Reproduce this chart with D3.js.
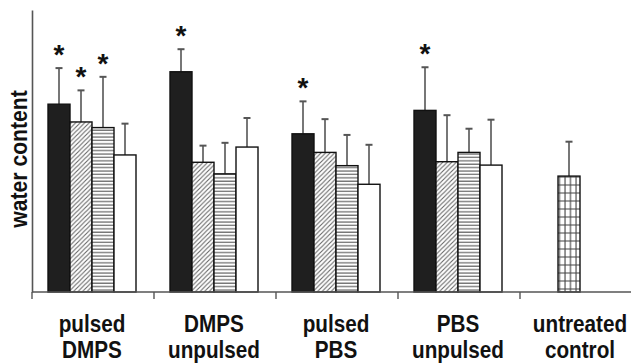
<!DOCTYPE html>
<html>
<head>
<meta charset="utf-8">
<script src="https://cdn.jsdelivr.net/npm/d3@7"></script>
<style>
  body { margin: 0; background: #fff; }
  text { font-family: "Liberation Sans", Arial, sans-serif; font-weight: bold; fill: #111; }
</style>
</head>
<body>
<svg id="chart" width="631" height="363"></svg>
<script>
// data (arbitrary units, no y ticks in original)
var categories = ["pulsed|DMPS", "DMPS|unpulsed", "pulsed|PBS", "PBS|unpulsed", "untreated|control"];
var slots = ["s1", "s2", "s3", "s4"];
var fills = ["black", "diag", "horiz", "white"];
var values = [
  [66.6, 60.3, 58.3, 48.6],
  [78.1, 46.0, 41.9, 51.4],
  [56.1, 49.5, 44.8, 38.2],
  [64.4, 46.2, 49.5, 45.0],
  [null, 41.1, null, null]
];
var errors = [
  [12.8, 11.2, 18.0, 11.1],
  [8.0, 5.9, 11.0, 10.3],
  [11.5, 11.8, 10.9, 14.0],
  [15.3, 16.5, 8.4, 16.1],
  [null, 12.2, null, null]
];
var stars = [
  [true, true, true, false],
  [true, false, false, false],
  [true, false, false, false],
  [true, false, false, false],
  [false, false, false, false]
];

var margin = {left: 32, top: 10, bottom: 292};
var svg = d3.select("#chart");

var defs = svg.append("defs");
var p1 = defs.append("pattern").attr("id", "diag").attr("patternUnits", "userSpaceOnUse")
  .attr("width", 4.5).attr("height", 4.5);
p1.append("rect").attr("width", 4.5).attr("height", 4.5).attr("fill", "#fff");
p1.append("path").attr("d", "M-1,1 l2,-2 M0,4.5 l4.5,-4.5 M3.5,5.5 l2,-2")
  .attr("stroke", "#666").attr("stroke-width", 1.1);

var p2 = defs.append("pattern").attr("id", "horiz").attr("patternUnits", "userSpaceOnUse")
  .attr("width", 4).attr("height", 3.4);
p2.append("rect").attr("width", 4).attr("height", 3.4).attr("fill", "#fff");
p2.append("line").attr("x1", 0).attr("x2", 4).attr("y1", 1).attr("y2", 1)
  .attr("stroke", "#555").attr("stroke-width", 1.1);

var p3 = defs.append("pattern").attr("id", "cross").attr("patternUnits", "userSpaceOnUse")
  .attr("width", 5.5).attr("height", 8);
p3.append("rect").attr("width", 5.5).attr("height", 8).attr("fill", "#fff");
p3.append("path").attr("d", "M0,1 H5.5 M1,0 V8")
  .attr("stroke", "#444").attr("stroke-width", 1.1);

var x0 = d3.scaleBand().domain(categories).range([margin.left, margin.left + 5 * 122]);
var x1 = d3.scaleBand().domain(slots).range([16, 104]);
var y = d3.scaleLinear().domain([0, 100]).range([margin.bottom, margin.top]);

function fillOf(ci, si) {
  if (ci === 4) return "url(#cross)";
  var f = fills[si];
  if (f === "black") return "#1f1f1f";
  if (f === "white") return "#fff";
  return "url(#" + f + ")";
}

var groups = svg.append("g").selectAll("g")
  .data(categories)
  .enter().append("g")
  .attr("transform", function(d) { return "translate(" + x0(d) + ",0)"; });

groups.each(function(cat, ci) {
  var g = d3.select(this);
  var items = slots.map(function(s, si) {
    return {slot: s, si: si, v: values[ci][si], e: errors[ci][si], star: stars[ci][si]};
  }).filter(function(d) { return d.v !== null; });

  // error bars
  g.selectAll("line.err").data(items).enter().append("line")
    .attr("x1", function(d) { return x1(d.slot) + x1.bandwidth() / 2; })
    .attr("x2", function(d) { return x1(d.slot) + x1.bandwidth() / 2; })
    .attr("y1", function(d) { return y(d.v); })
    .attr("y2", function(d) { return y(d.v + d.e); })
    .attr("stroke", "#555").attr("stroke-width", 1.6);
  g.selectAll("line.cap").data(items).enter().append("line")
    .attr("x1", function(d) { return x1(d.slot) + x1.bandwidth() / 2 - 3.5; })
    .attr("x2", function(d) { return x1(d.slot) + x1.bandwidth() / 2 + 3.5; })
    .attr("y1", function(d) { return y(d.v + d.e); })
    .attr("y2", function(d) { return y(d.v + d.e); })
    .attr("stroke", "#555").attr("stroke-width", 2);

  g.selectAll("rect").data(items).enter().append("rect")
    .attr("x", function(d) { return x1(d.slot); })
    .attr("y", function(d) { return y(d.v); })
    .attr("width", x1.bandwidth())
    .attr("height", function(d) { return y(0) - y(d.v); })
    .attr("fill", function(d) { return fillOf(ci, d.si); })
    .attr("stroke", "#111").attr("stroke-width", 1.4);

  g.selectAll("text.star").data(items.filter(function(d) { return d.star; })).enter()
    .append("text")
    .attr("x", function(d) { return x1(d.slot) + x1.bandwidth() / 2; })
    .attr("y", function(d) { return y(d.v + d.e) - 4; })
    .attr("text-anchor", "middle")
    .style("font-size", "28px")
    .text("*");
});

// axes
var xg = svg.append("g").attr("transform", "translate(0," + margin.bottom + ")");
xg.append("line").attr("x1", margin.left).attr("x2", 631).attr("y1", 0).attr("y2", 0)
  .attr("stroke", "#555").attr("stroke-width", 1.6);
xg.selectAll("line.tk").data(categories).enter().append("line")
  .attr("x1", function(d) { return x0(d); }).attr("x2", function(d) { return x0(d); })
  .attr("y1", 0).attr("y2", 7).attr("stroke", "#555").attr("stroke-width", 1.4);

var yg = svg.append("g").attr("transform", "translate(" + margin.left + ",0)")
  .call(d3.axisLeft(y).tickValues([]).tickSizeOuter(0));
yg.select(".domain").attr("stroke", "#555").attr("stroke-width", 1.6);

// category labels (slightly condensed, like the original)
var lab = svg.append("g").selectAll("g").data(categories).enter().append("g")
  .attr("transform", function(d) {
    return "translate(" + (x0(d) + x0.bandwidth() / 2 - 1) + ",0) scale(0.9,1)";
  })
  .append("text")
  .attr("y", 332)
  .attr("text-anchor", "middle")
  .style("font-size", "23px");
lab.append("tspan").attr("x", 0)
  .text(function(d) { return d.split("|")[0]; });
lab.append("tspan").attr("x", 0)
  .attr("dy", 26).text(function(d) { return d.split("|")[1]; });

svg.append("text")
  .attr("transform", "translate(27,159) rotate(-90) scale(0.92,1)")
  .attr("text-anchor", "middle")
  .style("font-size", "23px")
  .text("water content");
</script>
</body>
</html>
